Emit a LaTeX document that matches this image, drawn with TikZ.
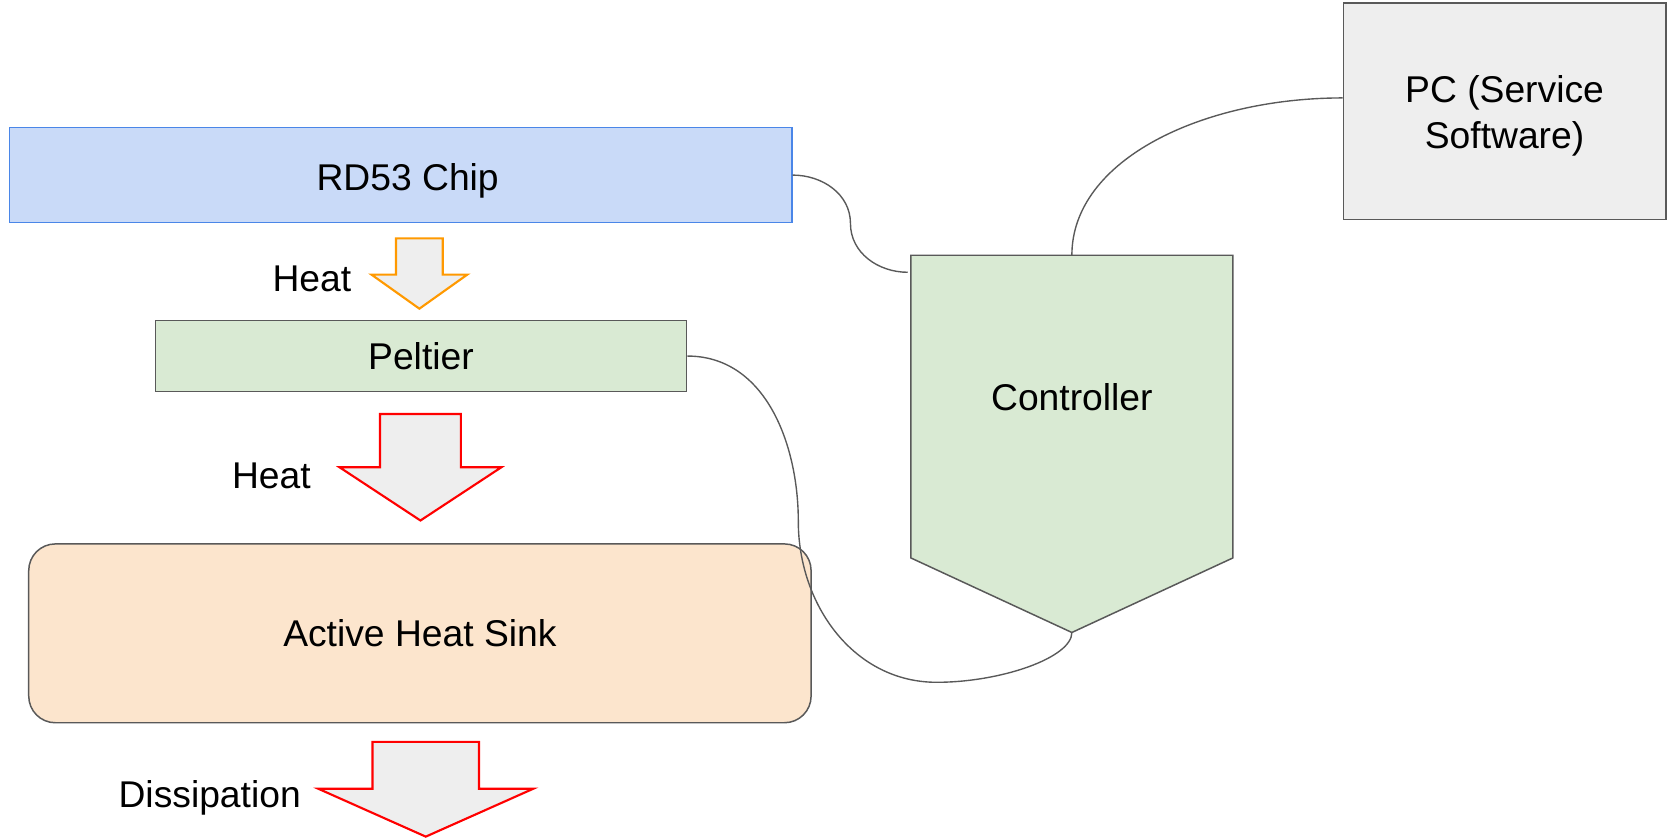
\documentclass[tikz,border=0pt]{standalone}
\usepackage{fontspec}
\setmainfont{Liberation Sans}
\usetikzlibrary{calc}
\definecolor{chipfill}{HTML}{C9DAF8}
\definecolor{chipedge}{HTML}{4A86E8}
\definecolor{greenfill}{HTML}{D9EAD3}
\definecolor{sinkfill}{HTML}{FCE5CD}
\definecolor{pcfill}{HTML}{EEEEEE}
\definecolor{edge}{HTML}{595959}
\definecolor{arrowfill}{HTML}{EEEEEE}
\definecolor{heatorange}{HTML}{FF9900}
\definecolor{heatred}{HTML}{FF0000}
\newcommand\downblock[7]{%
  \draw[harrow,draw=#1] (#2-#4,#3) -- (#2+#4,#3) -- (#2+#4,#5) -- (#2+#6,#5)
    -- (#2,#7) -- (#2-#6,#5) -- (#2-#4,#5) -- cycle;}
\begin{document}
\begin{tikzpicture}[x=1pt,y=-1pt,
  every node/.style={font=\fontsize{35}{43}\selectfont},
  box/.style={draw=edge, line width=1.4pt, inner sep=0pt, text height=25pt, text depth=0pt},
  lbl/.style={inner sep=0pt, text height=25pt, text depth=0pt},
  wire/.style={draw=edge, line width=1.3pt},
  harrow/.style={fill=arrowfill, line width=2pt, line join=miter}]
\useasboundingbox (0,0) rectangle (1568,787);

% main boxes
\node[box, draw=chipedge, fill=chipfill, minimum width=735pt, minimum height=89pt] (rd) at (376.5,164.5) {};
\node[lbl] (rdlabel) at (383,166) {RD53 Chip};
\node[box, fill=greenfill, minimum width=499pt, minimum height=67pt] (pel) at (395.5,334.5) {Peltier};
\node[box, fill=sinkfill, rounded corners=25pt, minimum width=735pt, minimum height=168pt] (sink) at (394.5,595) {Active Heat Sink};
\node[box, fill=pcfill, minimum width=303pt, minimum height=203pt] (pc) at (1413.5,104.5) {};
\node[inner sep=0pt, align=center] (pclabel) at (1413.5,109) {PC (Service\\Software)};

% controller (pentagon pointing down)
\node[inner sep=0pt, minimum width=302pt, minimum height=284pt] (ctrl) at (1007,382) {};
\draw[draw=edge, fill=greenfill, line width=1.4pt, line join=miter]
  (ctrl.north west) -- (ctrl.north east) -- (ctrl.south east)
  -- ([yshift=-70pt]ctrl.south) coordinate (ctip) -- (ctrl.south west) -- cycle;
\node[lbl] (ctrllabel) at (1007,373) {Controller};

% heat arrows
\downblock{heatorange}{394}{224}{22}{258}{45}{290}
\node[lbl] (heat1) at (293,261) {Heat};
\downblock{heatred}{395}{389}{38}{439}{76}{489}
\node[lbl] (heat2) at (255,446) {Heat};
\downblock{heatred}{400}{697}{50}{741}{101}{786}
\node[lbl] (diss) at (197,746) {Dissipation};

% connectors
\coordinate (m1) at (799,210);
\draw[wire] (rd.east) to[out=0,in=90] (m1) to[out=-90,in=180] ([xshift=-3pt,yshift=-16pt]ctrl.north west);
\draw[wire] (ctrl.north) .. controls (1007,150) and (1130,92) .. ([yshift=12.5pt]pc.west);
\coordinate (m2) at (750,490);
\coordinate (m3) at (880,641);
\draw[wire] (pel.east) to[out=0,in=90] (m2) to[out=-90,in=180] (m3)
  .. controls (940,641) and (1007,618) .. (ctip);
\end{tikzpicture}
\end{document}
